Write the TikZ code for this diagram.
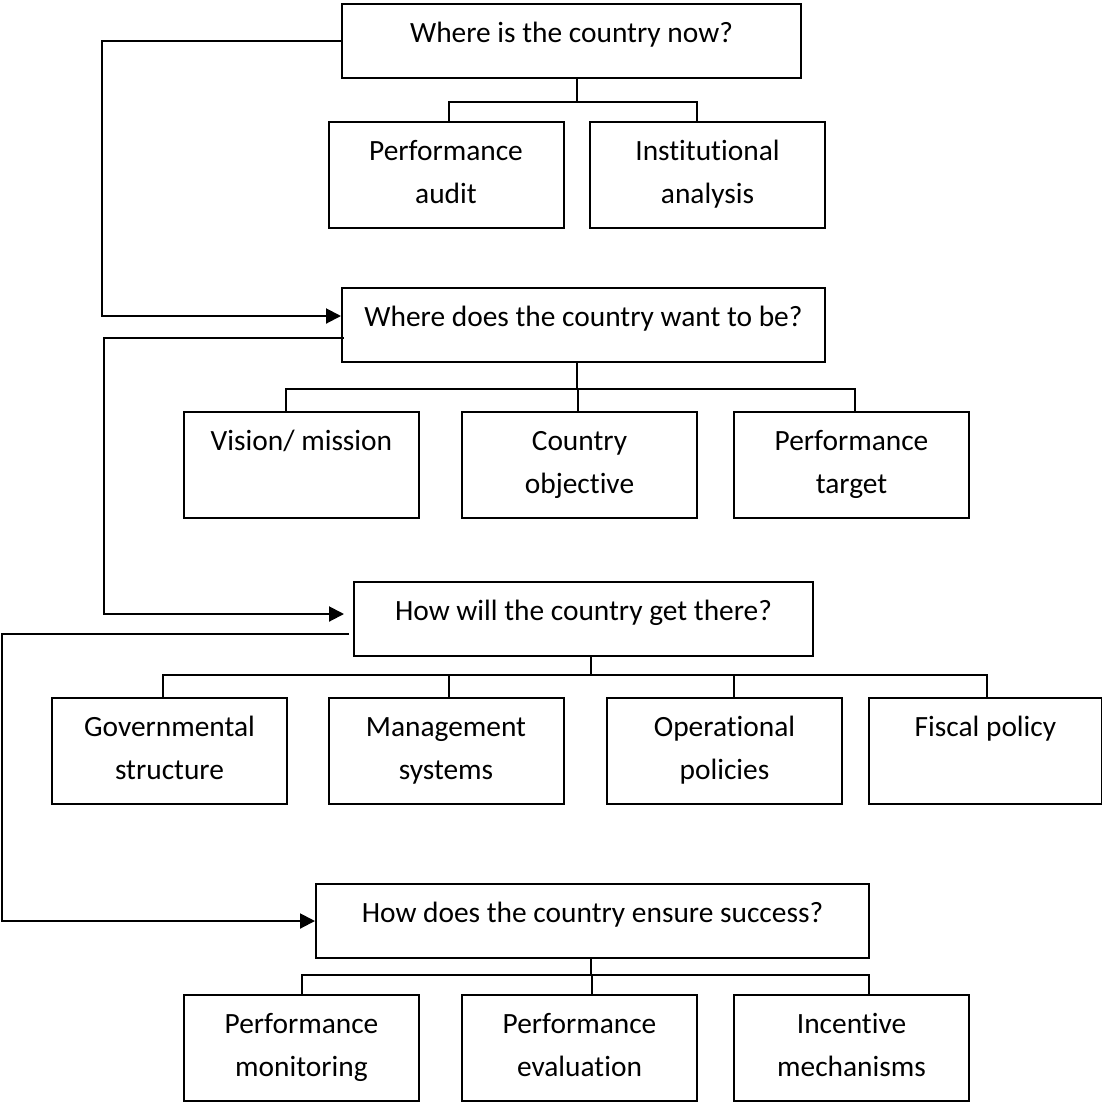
\documentclass[tikz,border=0pt]{standalone}
\usepackage{fontspec}
\setmainfont[Ligatures=NoCommon]{Carlito}
\usetikzlibrary{arrows.meta}

\begin{document}
\begin{tikzpicture}[x=1pt,y=-1pt,
  qbox/.style={draw,line width=2pt,anchor=north west,inner sep=0pt,
               text height=38pt,text depth=36pt,align=flush center,
               font=\fontsize{29.4pt}{43pt}\selectfont},
  item/.style={qbox,text width=235pt,text depth=68pt},
  tree/.style={line width=2pt},
  link/.style={line width=2pt,-{Triangle[length=15pt,width=15pt]}}
]
  \useasboundingbox (0,0) rectangle (1102,1101);

  %% ---- Where is the country now? ----
  \node[qbox,minimum width=459pt] (now) at (341,3) {Where is the country now?};
  \node[item] (audit) at (327.5,121) {Performance\\audit};
  \node[item] (inst) at (589,121) {Institutional\\analysis};

  %% ---- Where does the country want to be? ----
  \node[qbox,minimum width=483pt] (want) at (341,287) {Where does the country want to be?};
  \node[item] (vision) at (183,411) {Vision/ mission};
  \node[item] (objective) at (461,411) {Country\\objective};
  \node[item] (target) at (733,411) {Performance\\target};

  %% ---- How will the country get there? ----
  \node[qbox,minimum width=459pt] (get) at (353,581) {How will the country get there?};
  \node[item] (gov) at (51,697) {Governmental\\structure};
  \node[item] (mgmt) at (327.5,697) {Management\\systems};
  \node[item] (oper) at (606,697) {Operational\\policies};
  \node[item,text width=233pt] (fiscal) at (868,697) {Fiscal policy};

  %% ---- How does the country ensure success? ----
  \node[qbox,minimum width=553pt] (ensure) at (315,883) {How does the country ensure success?};
  \node[item] (monitor) at (183,994) {Performance\\monitoring};
  \node[item] (evaluate) at (461,994) {Performance\\evaluation};
  \node[item] (incent) at (733,994) {Incentive\\mechanisms};

  %% ---- Branches ----
  % now -> audit, inst
  \draw[tree] ([xshift=5.5pt]now.south) -- ++(0,23) -| ([xshift=3pt]audit.north);
  \draw[tree] ([xshift=5.5pt]now.south) -- ++(0,23) -| ([xshift=-11pt]inst.north);

  % want -> vision, objective, target
  \draw[tree] ([xshift=-6.5pt]want.south) -- ++(0,26) -| ([xshift=-15.5pt]vision.north);
  \draw[tree] ([xshift=-6.5pt]want.south) -- ++(0,26) -| ([xshift=-2pt]objective.north);
  \draw[tree] ([xshift=-6.5pt]want.south) -- ++(0,26) -| ([xshift=3pt]target.north);

  % get -> gov, mgmt, oper, fiscal
  \draw[tree] ([xshift=7.5pt]get.south) -- ++(0,18) -| ([xshift=-6.5pt]gov.north);
  \draw[tree] ([xshift=7.5pt]get.south) -- ++(0,18) -| ([xshift=3pt]mgmt.north);
  \draw[tree] ([xshift=7.5pt]get.south) -- ++(0,18) -| ([xshift=9.5pt]oper.north);
  \draw[tree] ([xshift=7.5pt]get.south) -- ++(0,18) -| ([xshift=1.5pt]fiscal.north);

  % ensure -> monitor, evaluate, incent
  \draw[tree] ([xshift=-1.5pt]ensure.south) -- ++(0,16) -| (monitor.north);
  \draw[tree] ([xshift=-1.5pt]ensure.south) -- ++(0,16) -| ([xshift=12pt]evaluate.north);
  \draw[tree] ([xshift=-1.5pt]ensure.south) -- ++(0,16) -| ([xshift=17.5pt]incent.north);

  %% ---- Feedback arrows (left side) ----
  \draw[link] (now.west) -- ++(-239,0) |- ([yshift=9pt]want.west);
  \draw[link] ([xshift=3pt,yshift=-13pt]want.west) -- ++(-240,0)
                |- ([xshift=-9pt,yshift=5pt]get.west);
  \draw[link] ([xshift=-4pt,yshift=-15pt]get.west) -- ++(-347,0) |- (ensure.west);
\end{tikzpicture}
\end{document}
